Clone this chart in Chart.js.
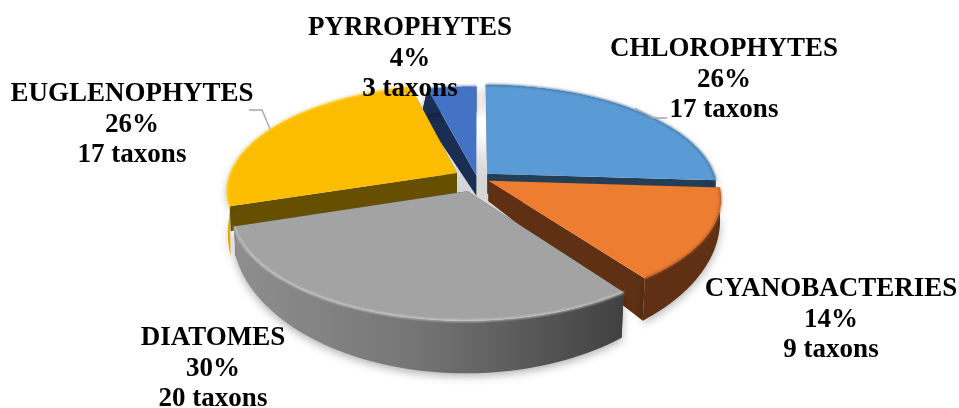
<!DOCTYPE html>
<html>
<head>
<meta charset="utf-8">
<style>
body { margin: 0; background: #fff; }
canvas { display: block; }
</style>
<script src="https://cdn.jsdelivr.net/npm/chart.js@4"></script>
</head>
<body>
<canvas id="mycanvas" width="959" height="408"></canvas>
<script>
// values
var groups = ['CHLOROPHYTES', 'CYANOBACTERIES', 'DIATOMES', 'EUGLENOPHYTES', 'PYRROPHYTES'];
var percents = [26, 14, 30, 26, 4];
var taxons = [17, 9, 20, 17, 3];

// colours of each slice
var topColors = ['#5b9bd5', '#ed7d31', '#a3a3a3', '#fcbd00', '#4472c4'];
var cutColors = ['#233f57', '#5f3013', '#4a4a4a', '#665000', '#1a2d52'];
var wallColors = ['#233f57', '#5f3013', null, '#e6ac00', '#1a2d52'];
var rimColors = ['#3f74a5', '#a8521c', '#d4d4d4', '#ffd21f', '#4472c4'];
var wallStretch = [1, 1, 1, 2, 1];
var explode = [14, 13, 30, 23, 5];

// label placement, centre x and first baseline
var labelX = [724, 831, 213, 132, 410];
var labelY = [56, 296, 345, 101, 35];
var lineGap = 30.7;

// the tilted plane the pie lies on
var cx = 477, cy = 178, ax = 228, by = 104, persp = 0.16;

function project(u, v) {
	var d = 1 - persp * v;
	return { x: cx + ax * u / d, y: cy + by * v / d };
}

function lower(p, v, stretch) {
	var depth = v > 0 ? 20 + 28 * Math.pow(v, 1.3) : 20 - 5 * v;
	var f = v < 0 ? 1 - 0.12 * v : 1 - 0.015 * v;
	return { x: cx + (p.x - cx) * f, y: p.y + depth * stretch };
}

function tracePoly(ctx, pts) {
	ctx.beginPath();
	pts.forEach(function(p, i) {
		if (i == 0) ctx.moveTo(p.x, p.y); else ctx.lineTo(p.x, p.y);
	});
	ctx.closePath();
}

function sliceGeometry(el, stretch) {
	var mid = (el.startAngle + el.endAngle) / 2;
	var d = el.options.offset / ax;
	var ou = Math.cos(mid) * d, ov = Math.sin(mid) * d;
	var arcTop = [], arcLow = [], arcCut = [];
	var steps = 60;
	for (var i = 0; i <= steps; i++) {
		var a = el.startAngle + (el.endAngle - el.startAngle) * i / steps;
		var v = ov + Math.sin(a);
		var p = project(ou + Math.cos(a), v);
		arcTop.push(p);
		arcLow.push(lower(p, v, stretch));
		arcCut.push(lower(p, v, 1));
	}
	var apex = project(ou, ov);
	return { apex: apex, apexLow: lower(apex, ov, 1), arcTop: arcTop, arcLow: arcLow, arcCut: arcCut };
}

function drawSlice(ctx, g, i) {
	var last = g.arcTop.length - 1;

	// the two cut faces
	ctx.fillStyle = cutColors[i];
	tracePoly(ctx, [g.apex, g.arcTop[0], g.arcCut[0], g.apexLow]);
	ctx.fill();
	tracePoly(ctx, [g.apex, g.arcTop[last], g.arcCut[last], g.apexLow]);
	ctx.fill();

	// outer wall
	var wall = g.arcTop.concat(g.arcLow.slice().reverse());
	var fill = wallColors[i];
	if (!fill) {
		fill = ctx.createLinearGradient(240, 0, 630, 0);
		fill.addColorStop(0, '#8e8e8e');
		fill.addColorStop(0.45, '#757575');
		fill.addColorStop(1, '#3f3f3f');
	}
	ctx.save();
	ctx.shadowColor = 'rgba(0,0,0,0.3)';
	ctx.shadowBlur = 9;
	ctx.shadowOffsetY = 3;
	ctx.fillStyle = fill;
	tracePoly(ctx, wall);
	ctx.fill();
	ctx.restore();

	// top face
	ctx.fillStyle = topColors[i];
	tracePoly(ctx, [g.apex].concat(g.arcTop));
	ctx.fill();

	// soft rim along the arc
	ctx.save();
	ctx.filter = 'blur(0.8px)';
	ctx.strokeStyle = rimColors[i];
	ctx.lineWidth = 1.6;
	ctx.beginPath();
	g.arcTop.forEach(function(p, j) {
		if (j == 0) ctx.moveTo(p.x, p.y); else ctx.lineTo(p.x, p.y);
	});
	ctx.stroke();
	ctx.restore();
}

function drawLeader(ctx, pts) {
	ctx.strokeStyle = '#a6a6a6';
	ctx.lineWidth = 1.3;
	ctx.beginPath();
	pts.forEach(function(p, i) {
		if (i == 0) ctx.moveTo(p[0], p[1]); else ctx.lineTo(p[0], p[1]);
	});
	ctx.stroke();
}

var pie3d = {
	id: 'pie3d',
	// the library's flat arcs are replaced by the tilted ones below
	beforeDatasetDraw: function() {
		return false;
	},
	afterDatasetsDraw: function(chart) {
		var ctx = chart.ctx;
		var arcs = chart.getDatasetMeta(0).data;

		// soft shadow seen through the gap between the slices
		ctx.save();
		ctx.filter = 'blur(14px)';
		ctx.fillStyle = 'rgba(0,0,0,0.16)';
		ctx.beginPath();
		ctx.ellipse(cx, cy + 45, 120, 72, 0, 0, Math.PI * 2);
		ctx.fill();
		ctx.restore();

		// back slices first
		[0, 4, 3, 1, 2].forEach(function(i) {
			drawSlice(ctx, sliceGeometry(arcs[i], wallStretch[i]), i);
		});

		drawLeader(ctx, [[635, 108], [653, 118], [667, 118]]);
		drawLeader(ctx, [[249, 110], [262, 110], [270, 129]]);

		ctx.fillStyle = '#000';
		ctx.font = 'bold 27px "Liberation Serif"';
		ctx.textAlign = 'center';
		ctx.textBaseline = 'alphabetic';
		groups.forEach(function(name, i) {
			ctx.fillText(name, labelX[i], labelY[i]);
			ctx.fillText(percents[i] + '%', labelX[i], labelY[i] + lineGap);
			ctx.fillText(taxons[i] + ' taxons', labelX[i], labelY[i] + lineGap * 2);
		});
	}
};

new Chart(document.getElementById('mycanvas'), {
	type: 'pie',
	data: {
		labels: groups,
		datasets: [{
			data: percents,
			backgroundColor: topColors,
			offset: explode,
			borderWidth: 0
		}]
	},
	options: {
		responsive: false,
		animation: false,
		plugins: {
			legend: { display: false },
			tooltip: { enabled: false }
		}
	},
	plugins: [pie3d]
});
</script>
</body>
</html>
